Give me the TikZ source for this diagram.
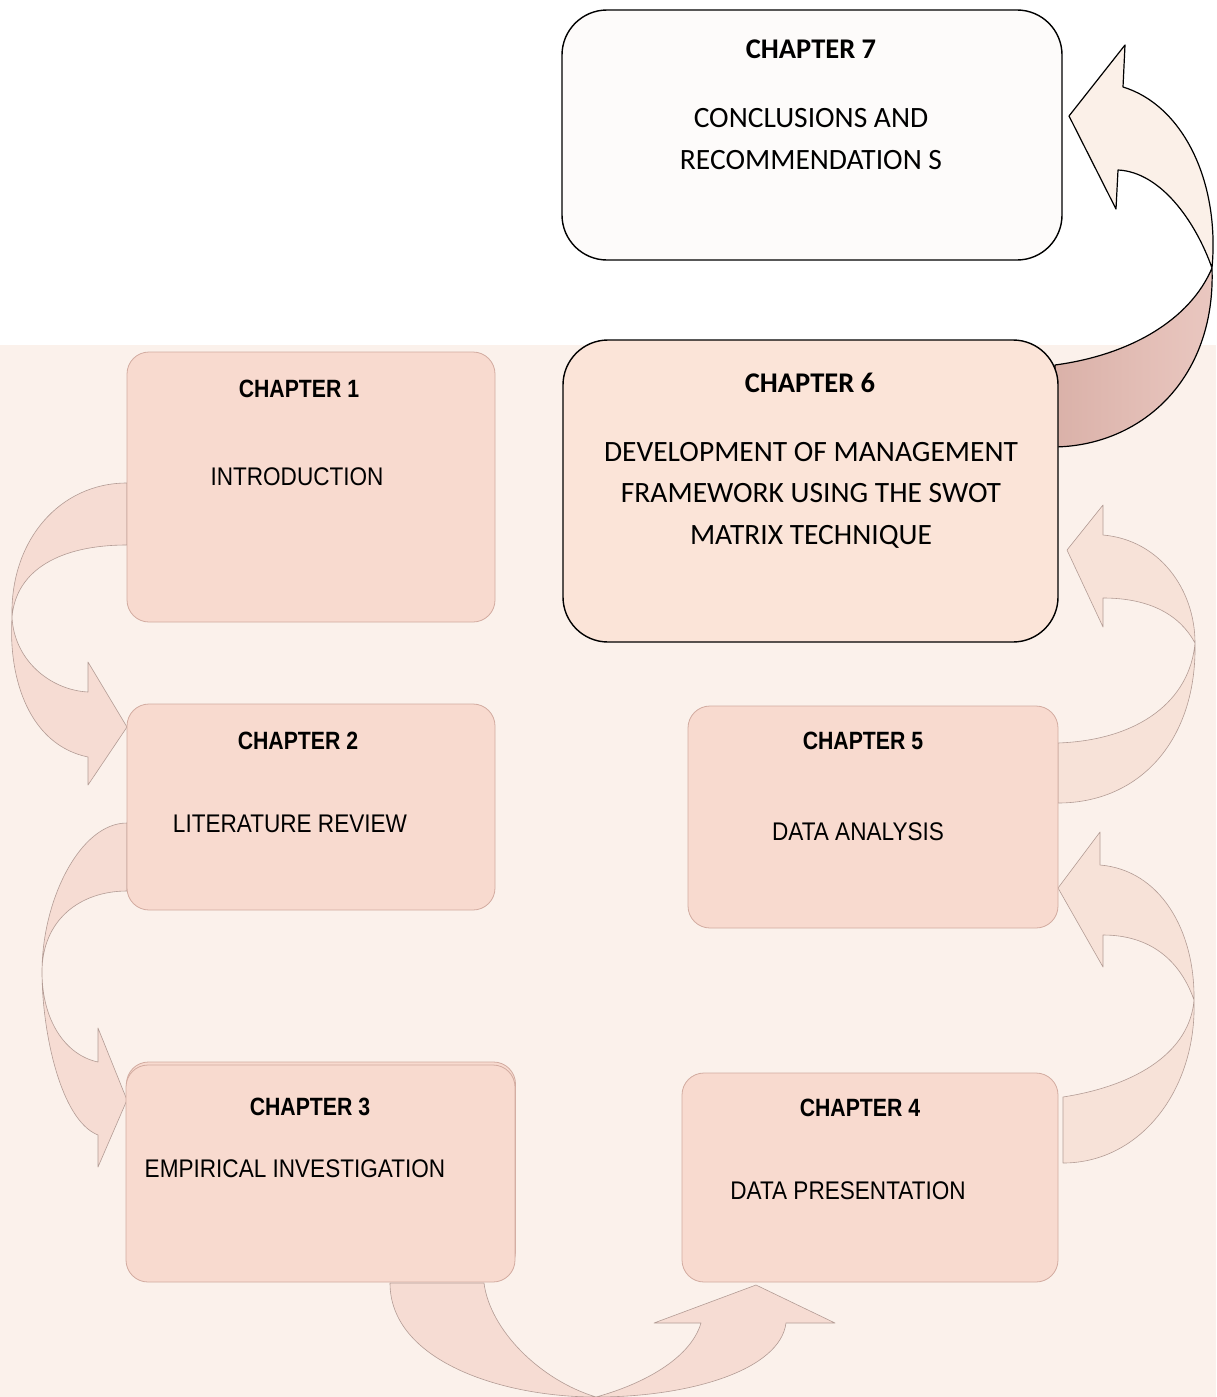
\documentclass[tikz,border=0pt]{standalone}
\usepackage{fontspec}
\setmainfont{Carlito}
\newfontfamily\arialn[FakeStretch=0.85]{Liberation Sans}
\newfontfamily\arialb[FakeStretch=0.885]{Liberation Sans}
\newfontfamily\calib{Carlito}
\definecolor{bgpeach}{HTML}{FBF1EB}
\definecolor{boxfill}{HTML}{F8DACF}
\definecolor{boxline}{HTML}{D2ABA0}
\definecolor{sixfill}{HTML}{FBE4D8}
\definecolor{sevenfill}{HTML}{FDFBFA}
\definecolor{arrfill}{HTML}{F6DCD3}
\definecolor{arrline}{HTML}{B39C95}
\definecolor{rarrfill}{HTML}{F7E2D8}
\definecolor{topfill}{HTML}{FBF0E8}
\definecolor{topdark}{HTML}{E5BAB1}
\tikzset{
  chbox/.style={draw=boxline, fill=boxfill, line width=0.8pt, rounded corners=22pt, inner sep=0pt},
  bigbox/.style={draw=black, line width=1.4pt, rounded corners=45pt, inner sep=0pt},
  hd/.style={inner sep=0pt, anchor=base, font=\arialn\bfseries\fontsize{25}{30}\selectfont},
  bd/.style={inner sep=0pt, anchor=base, font=\arialb\fontsize{25.5}{30}\selectfont},
  chd/.style={inner sep=0pt, anchor=base, font=\calib\bfseries\fontsize{28.5}{34}\selectfont},
  cbd/.style={inner sep=0pt, anchor=base, font=\calib\fontsize{29.5}{34}\selectfont},
  blk/.style={fill=arrfill, draw=arrline, line width=0.6pt, line join=round},
  rblk/.style={fill=rarrfill, draw=arrline, line width=0.6pt, line join=round},
}
\begin{document}
\begin{tikzpicture}[x=1pt,y=-1pt]
\useasboundingbox (0,0) rectangle (1216,1397);
\fill[white] (0,0) rectangle (1216,1397);
\fill[bgpeach] (0,345) rectangle (1216,1397);

% Arrow Ch1 -> Ch2
\draw[blk] (127,483) .. controls (60,483) and (10,540) .. (12,617)
  .. controls (14,660) and (50,690) .. (88,692) -- (88,662) -- (127,727) -- (88,785) -- (88,757)
  .. controls (30,745) and (8,680) .. (12,617)
  .. controls (16,570) and (60,545) .. (127,545) -- cycle;
% Arrow Ch2 -> Ch3
\draw[blk] (127,823) .. controls (80,823) and (42,900) .. (42,972)
  .. controls (42,1020) and (65,1055) .. (98,1062) -- (98,1028) -- (127,1100) -- (98,1167) -- (98,1135)
  .. controls (60,1120) and (42,1030) .. (42,972)
  .. controls (42,920) and (80,891) .. (127,891) -- cycle;
% Arrow Ch3 -> Ch4
\draw[blk] (390,1283) .. controls (390,1360) and (500,1397) .. (596,1397)
  .. controls (690,1397) and (780,1370) .. (786,1323) -- (835,1323) -- (756,1285) -- (654,1323) -- (701,1323)
  .. controls (690,1360) and (640,1385) .. (596,1397)
  .. controls (540,1380) and (490,1330) .. (484,1283) -- cycle;
% Arrow Ch4 -> Ch5
\draw[rblk] (1063,1097) .. controls (1140,1085) and (1190,1050) .. (1194,1000)
  .. controls (1180,960) and (1150,935) .. (1103,935) -- (1103,967) -- (1058,888) -- (1100,832) -- (1100,865)
  .. controls (1160,870) and (1195,930) .. (1194,1000)
  .. controls (1197,1090) and (1140,1163) .. (1063,1163) -- cycle;
% Arrow Ch5 -> Ch6
\draw[rblk] (1058,743) .. controls (1140,740) and (1190,700) .. (1195,643)
  .. controls (1180,615) and (1150,598) .. (1103,598) -- (1103,627) -- (1067,550) -- (1103,505) -- (1103,535)
  .. controls (1160,540) and (1195,590) .. (1195,643)
  .. controls (1197,740) and (1140,803) .. (1058,803) -- cycle;
% Arrow Ch6 -> Ch7
\fill[topfill] (1055,365) .. controls (1130,355) and (1190,320) .. (1212,268)
  .. controls (1195,220) and (1160,172) .. (1118,170) -- (1116,209) -- (1069,116) -- (1125,45) -- (1123,87)
  .. controls (1182,105) and (1220,180) .. (1212,268)
  .. controls (1216,380) and (1140,447) .. (1052,447) -- cycle;
\shade[left color=topdark!95!black, right color=topdark!80!white] (1055,365) .. controls (1130,355) and (1190,320) .. (1212,268)
  .. controls (1216,380) and (1140,447) .. (1052,447) -- cycle;
\draw[black, line width=1.2pt, line join=round] (1055,365) .. controls (1130,355) and (1190,320) .. (1212,268)
  .. controls (1195,220) and (1160,172) .. (1118,170) -- (1116,209) -- (1069,116) -- (1125,45) -- (1123,87)
  .. controls (1182,105) and (1220,180) .. (1212,268)
  .. controls (1216,380) and (1140,447) .. (1052,447) -- cycle;

% Boxes
\node[bigbox, fill=sevenfill, minimum width=500pt, minimum height=250pt] (c7) at (812,135) {};
\node[bigbox, fill=sixfill, minimum width=495pt, minimum height=302pt] (c6) at (810.5,491) {};
\node[chbox, minimum width=368pt, minimum height=270pt] (c1) at (311,487) {};
\node[chbox, minimum width=368pt, minimum height=206pt] (c2) at (311,807) {};
\node[chbox, minimum width=389pt, minimum height=212pt] (c3b) at (321,1168) {};
\node[chbox, minimum width=389pt, minimum height=217pt] (c3) at (320.5,1173.5) {};
\node[chbox, minimum width=376pt, minimum height=209pt] (c4) at (870,1177.5) {};
\node[chbox, minimum width=370pt, minimum height=222pt] (c5) at (873,817) {};

% Texts
\node[chd] (t7a) at (811,59) {CHAPTER 7};
\node[cbd] (t7b) at (811,127) {CONCLUSIONS AND};
\node[cbd] (t7c) at (811,169) {RECOMMENDATION S};
\node[chd] (t6a) at (810,392) {CHAPTER 6};
\node[cbd] (t6b) at (811,461) {DEVELOPMENT OF MANAGEMENT};
\node[cbd] (t6c) at (811,502) {FRAMEWORK USING THE SWOT};
\node[cbd] (t6d) at (811,544) {MATRIX TECHNIQUE};
\node[hd] (t1a) at (299,397) {CHAPTER 1};
\node[bd] (t1b) at (297,485) {INTRODUCTION};
\node[hd] (t2a) at (298,749) {CHAPTER 2};
\node[bd] (t2b) at (290,832) {LITERATURE REVIEW};
\node[hd] (t3a) at (310,1115) {CHAPTER 3};
\node[bd] (t3b) at (295,1177) {EMPIRICAL INVESTIGATION};
\node[hd] (t4a) at (860,1116) {CHAPTER 4};
\node[bd] (t4b) at (848,1199) {DATA PRESENTATION};
\node[hd] (t5a) at (863,749) {CHAPTER 5};
\node[bd] (t5b) at (858,840) {DATA ANALYSIS};
\end{tikzpicture}
\end{document}
